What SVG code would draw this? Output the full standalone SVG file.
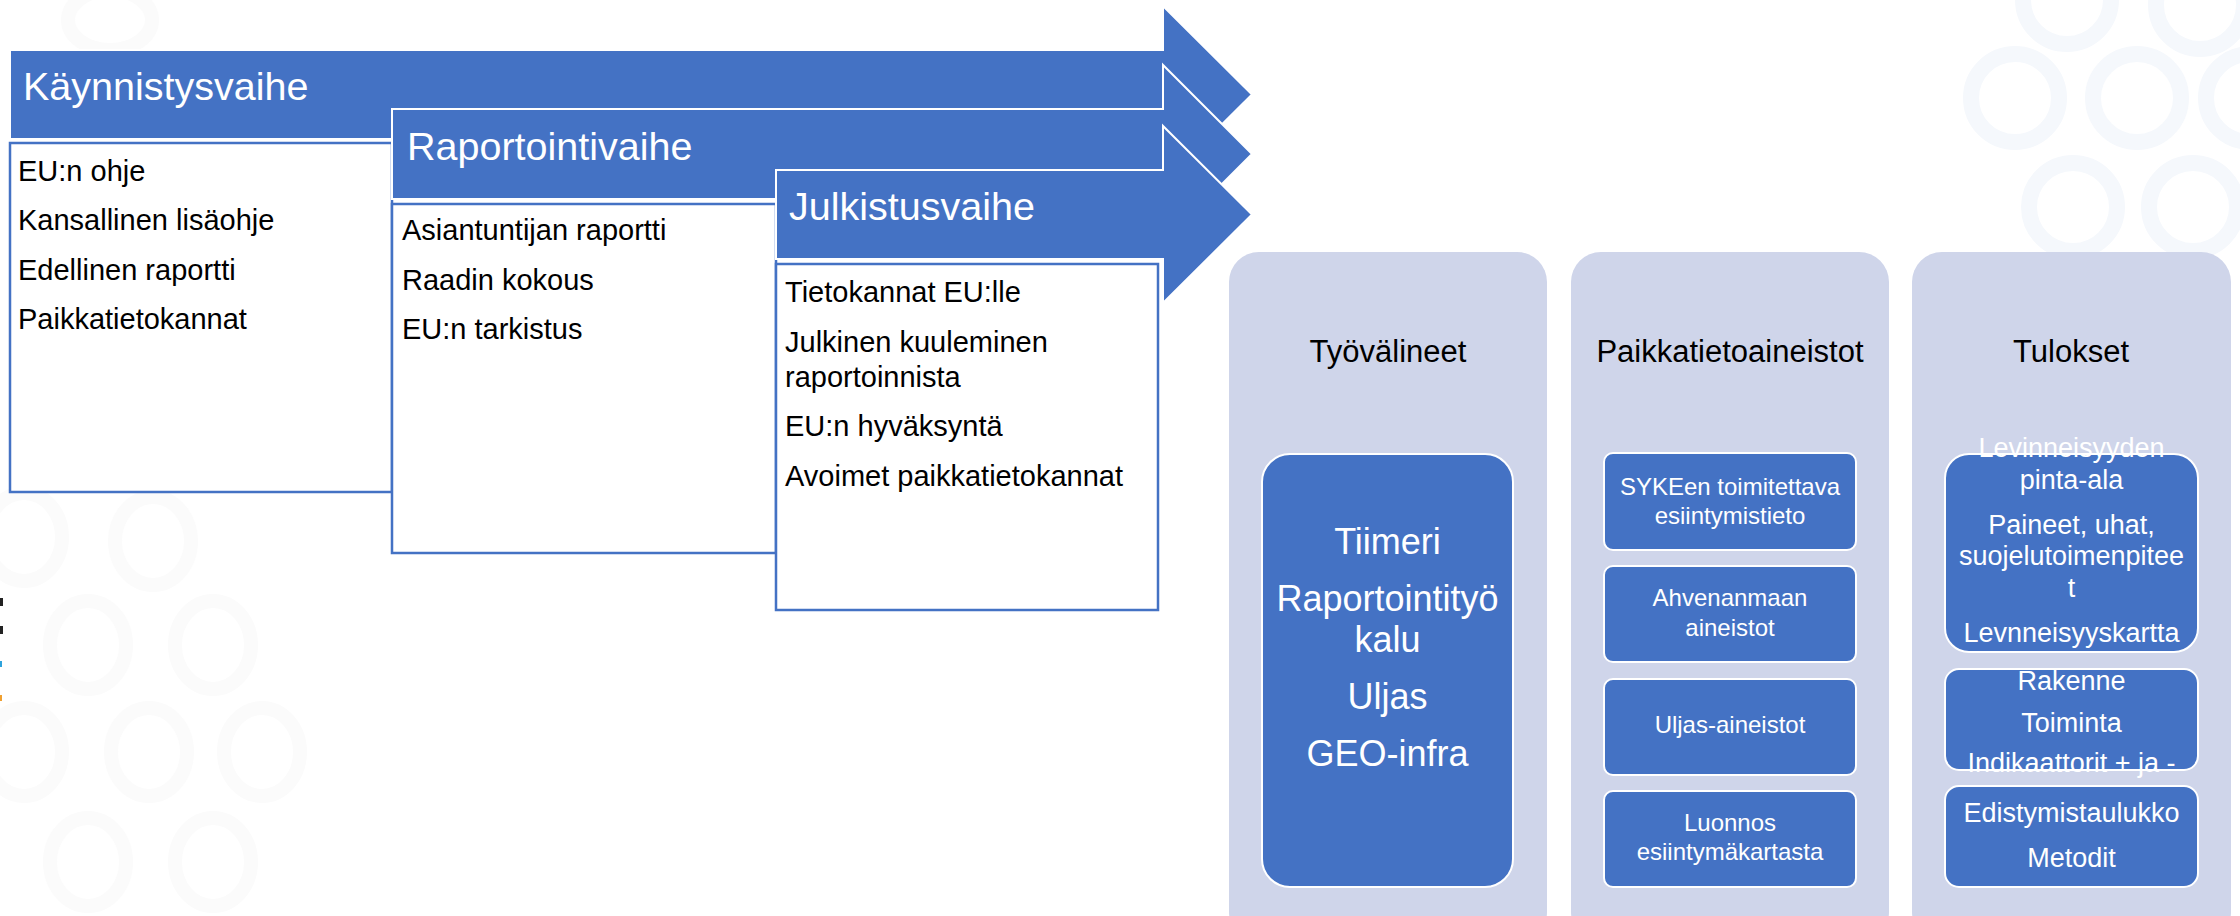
<svg xmlns="http://www.w3.org/2000/svg" width="2240" height="916" viewBox="0 0 2240 916">
  <defs>
    <style>
      .arrow { fill: #4472C4; stroke: #FFFFFF; stroke-width: 2; }
      .wbox { fill: #FFFFFF; stroke: #4472C4; stroke-width: 2.5; }
      .panel { fill: #CFD5EA; }
      .ibox { fill: #4472C4; stroke: #FFFFFF; stroke-width: 2; }
      .hdr { font-family: "Liberation Sans", Arial, sans-serif; fill: #FFFFFF; font-size: 39.5px; }
      .body { font-family: "Liberation Sans", Arial, sans-serif; fill: #000000; font-size: 29px; }
      .ptitle { font-family: "Liberation Sans", Arial, sans-serif; fill: #000000; font-size: 31px; text-anchor: middle; }
      .big { font-family: "Liberation Sans", Arial, sans-serif; fill: #FFFFFF; font-size: 36px; text-anchor: middle; }
      .mid { font-family: "Liberation Sans", Arial, sans-serif; fill: #FFFFFF; font-size: 24px; text-anchor: middle; }
      .res { font-family: "Liberation Sans", Arial, sans-serif; fill: #FFFFFF; font-size: 27px; text-anchor: middle; }
      .ringL { fill: none; stroke: #FBFBFB; stroke-width: 14; }
      .ringR { fill: none; stroke: #F5F8FC; stroke-width: 16; }
    </style>
  </defs>

  <rect x="0" y="0" width="2240" height="916" fill="#FFFFFF"/>

  <g id="background-decoration">
    <ellipse class="ringL" cx="110" cy="20" rx="42" ry="30"/>
    <ellipse class="ringL" cx="24" cy="537" rx="38" ry="44"/>
    <ellipse class="ringL" cx="153" cy="541" rx="38" ry="44"/>
    <ellipse class="ringL" cx="88" cy="645" rx="38" ry="44"/>
    <ellipse class="ringL" cx="213" cy="645" rx="38" ry="44"/>
    <ellipse class="ringL" cx="24" cy="752" rx="38" ry="44"/>
    <ellipse class="ringL" cx="149" cy="752" rx="38" ry="44"/>
    <ellipse class="ringL" cx="262" cy="752" rx="38" ry="44"/>
    <ellipse class="ringL" cx="88" cy="862" rx="38" ry="44"/>
    <ellipse class="ringL" cx="213" cy="862" rx="38" ry="44"/>
    <circle class="ringR" cx="2067" cy="0" r="44"/>
    <circle class="ringR" cx="2200" cy="5" r="44"/>
    <circle class="ringR" cx="2015" cy="98" r="44"/>
    <circle class="ringR" cx="2137" cy="98" r="44"/>
    <circle class="ringR" cx="2250" cy="98" r="44"/>
    <circle class="ringR" cx="2073" cy="207" r="44"/>
    <circle class="ringR" cx="2193" cy="207" r="44"/>
    <rect x="0" y="598" width="3" height="8" fill="#222222"/>
    <rect x="0" y="626" width="3" height="8" fill="#222222"/>
    <rect x="0" y="661" width="2" height="6" fill="#2EA3DC"/>
    <rect x="0" y="695" width="2" height="6" fill="#F0A030"/>
  </g>

  <g id="phase-kaynnistys">
    <polygon class="arrow" points="10,50 1163,50 1163,6 1252,94.5 1163,183 1163,139 10,139"/>
    <text class="hdr" x="23" y="100">Käynnistysvaihe</text>
    <rect class="wbox" x="10" y="143" width="382" height="349"/>
    <text class="body" x="18" y="181">EU:n ohje</text>
    <text class="body" x="18" y="230">Kansallinen lisäohje</text>
    <text class="body" x="18" y="280">Edellinen raportti</text>
    <text class="body" x="18" y="329">Paikkatietokannat</text>
  </g>

  <g id="phase-raportointi">
    <polygon class="arrow" points="392,109 1163,109 1163,65 1252,154 1163,243 1163,199 392,199"/>
    <text class="hdr" x="407" y="160">Raportointivaihe</text>
    <rect class="wbox" x="392" y="204" width="384" height="349"/>
    <text class="body" x="402" y="240">Asiantuntijan raportti</text>
    <text class="body" x="402" y="290">Raadin kokous</text>
    <text class="body" x="402" y="339">EU:n tarkistus</text>
  </g>

  <g id="phase-julkistus">
    <polygon class="arrow" points="776,170 1163,170 1163,126 1252,214.5 1163,303 1163,259 776,259"/>
    <text class="hdr" x="789" y="220">Julkistusvaihe</text>
    <rect class="wbox" x="776" y="264" width="382" height="346"/>
    <text class="body" x="785" y="302">Tietokannat EU:lle</text>
    <text class="body" x="785" y="352">Julkinen kuuleminen</text>
    <text class="body" x="785" y="387">raportoinnista</text>
    <text class="body" x="785" y="436">EU:n hyväksyntä</text>
    <text class="body" x="785" y="486">Avoimet paikkatietokannat</text>
  </g>

  <g id="panel-tyovalineet">
    <rect class="panel" x="1229" y="252" width="318" height="690" rx="30"/>
    <text class="ptitle" x="1388" y="362">Työvälineet</text>
    <g id="tyovalineet-list">
      <rect class="ibox" x="1262" y="454" width="251" height="433" rx="28"/>
      <text class="big" x="1387.5" y="554">Tiimeri</text>
      <text class="big" x="1387.5" y="611">Raportointityö</text>
      <text class="big" x="1387.5" y="652">kalu</text>
      <text class="big" x="1387.5" y="709">Uljas</text>
      <text class="big" x="1387.5" y="766">GEO-infra</text>
    </g>
  </g>

  <g id="panel-paikkatietoaineistot">
    <rect class="panel" x="1571" y="252" width="318" height="690" rx="30"/>
    <text class="ptitle" x="1730" y="362">Paikkatietoaineistot</text>
    <g id="aineisto-syke">
      <rect class="ibox" x="1604" y="453" width="252" height="97" rx="9"/>
      <text class="mid" x="1730" y="495">SYKEen toimitettava</text>
      <text class="mid" x="1730" y="524">esiintymistieto</text>
    </g>
    <g id="aineisto-ahvenanmaa">
      <rect class="ibox" x="1604" y="566" width="252" height="96" rx="9"/>
      <text class="mid" x="1730" y="606">Ahvenanmaan</text>
      <text class="mid" x="1730" y="636">aineistot</text>
    </g>
    <g id="aineisto-uljas">
      <rect class="ibox" x="1604" y="679" width="252" height="96" rx="9"/>
      <text class="mid" x="1730" y="733">Uljas-aineistot</text>
    </g>
    <g id="aineisto-luonnos">
      <rect class="ibox" x="1604" y="791" width="252" height="96" rx="9"/>
      <text class="mid" x="1730" y="831">Luonnos</text>
      <text class="mid" x="1730" y="860">esiintymäkartasta</text>
    </g>
  </g>

  <g id="panel-tulokset">
    <rect class="panel" x="1912" y="252" width="319" height="690" rx="30"/>
    <text class="ptitle" x="2071" y="362">Tulokset</text>
    <g id="tulos-levinneisyys">
      <rect class="ibox" x="1945" y="454" width="253" height="198" rx="24"/>
      <text class="res" x="2071.5" y="457">Levinneisyyden</text>
      <text class="res" x="2071.5" y="489">pinta-ala</text>
      <text class="res" x="2071.5" y="534">Paineet, uhat,</text>
      <text class="res" x="2071.5" y="565">suojelutoimenpitee</text>
      <text class="res" x="2071.5" y="597">t</text>
      <text class="res" x="2071.5" y="642">Levnneisyyskartta</text>
    </g>
    <g id="tulos-rakenne">
      <rect class="ibox" x="1945" y="669" width="253" height="101" rx="14"/>
      <text class="res" x="2071.5" y="690">Rakenne</text>
      <text class="res" x="2071.5" y="732">Toiminta</text>
      <text class="res" x="2071.5" y="772">Indikaattorit + ja -</text>
    </g>
    <g id="tulos-edistyminen">
      <rect class="ibox" x="1945" y="786" width="253" height="101" rx="14"/>
      <text class="res" x="2071.5" y="822">Edistymistaulukko</text>
      <text class="res" x="2071.5" y="867">Metodit</text>
    </g>
  </g>

  <g id="connectors"/>
</svg>
